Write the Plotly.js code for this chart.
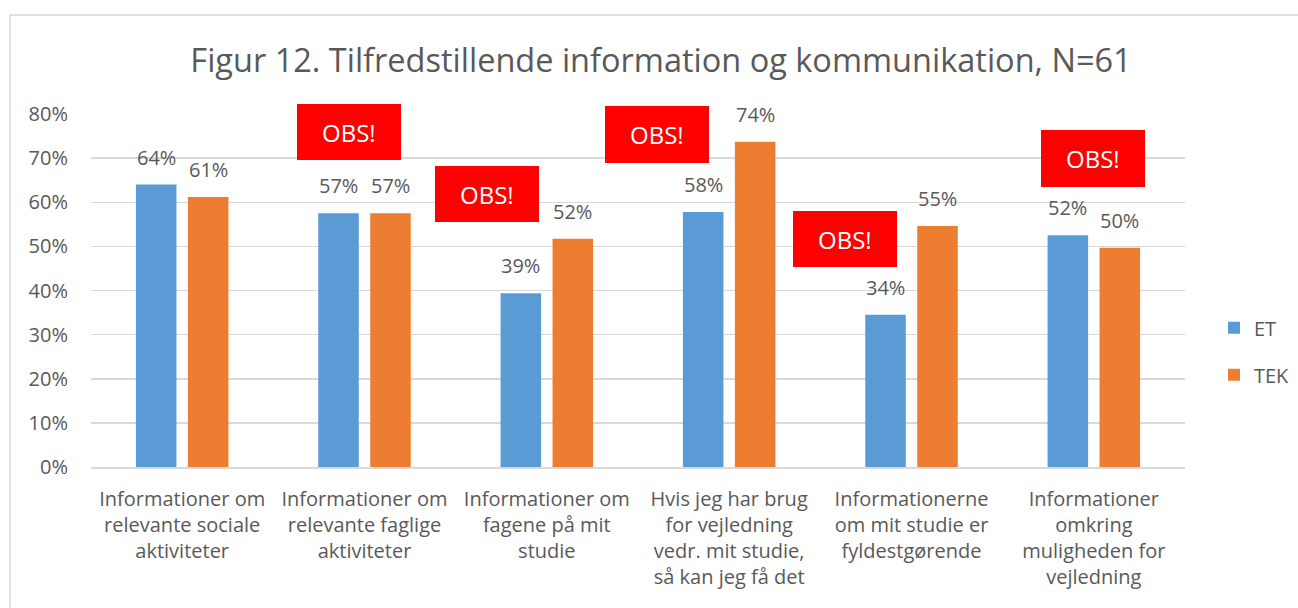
<!DOCTYPE html>
<html>
<head>
<meta charset="utf-8">
<script src="https://cdn.plot.ly/plotly-3.0.1.min.js"></script>
<style>
html,body{margin:0;padding:0;background:#fff;}
#chart{width:1298px;height:608px;}
</style>
</head>
<body>
<div id="chart"></div>
<script>
const categories = [
  "Informationer om<br>relevante sociale<br>aktiviteter",
  "Informationer om<br>relevante faglige<br>aktiviteter",
  "Informationer om<br>fagene på mit<br>studie",
  "Hvis jeg har brug<br>for vejledning<br>vedr. mit studie,<br>så kan jeg få det",
  "Informationerne<br>om mit studie er<br>fyldestgørende",
  "Informationer<br>omkring<br>muligheden for<br>vejledning"
];
const seriesNames = ["ET", "TEK"];
const etValues  = [0.64, 0.575, 0.394, 0.578, 0.345, 0.525];
const tekValues = [0.612, 0.575, 0.517, 0.737, 0.546, 0.497];
const etLabels  = ["64%", "57%", "39%", "58%", "34%", "52%"];
const tekLabels = ["61%", "57%", "52%", "74%", "55%", "50%"];
const yTickVals = [0, 0.1, 0.2, 0.3, 0.4, 0.5, 0.6, 0.7, 0.8];
const yTickText = ["0%", "10%", "20%", "30%", "40%", "50%", "60%", "70%", "80%"];
const obsText = "OBS!";

const FONT = "Open Sans, sans-serif";
const TXT = "#595959";
const idx = categories.map((_, i) => i);

const traces = [
  {type: "bar", name: seriesNames[0], x: idx, y: etValues,
   marker: {color: "#5B9BD5"}, legendgroup: "a", hoverinfo: "skip"},
  {type: "bar", name: seriesNames[1], x: idx, y: tekValues,
   marker: {color: "#ED7D31"}, legendgroup: "b", hoverinfo: "skip"}
];

const annotations = [];
idx.forEach(i => {
  annotations.push({x: i, y: etValues[i], xref: "x", yref: "y", text: etLabels[i],
    showarrow: false, xshift: -26, yanchor: "bottom", yshift: 12,
    font: {family: FONT, size: 20, color: TXT}});
  annotations.push({x: i, y: tekValues[i], xref: "x", yref: "y", text: tekLabels[i],
    showarrow: false, xshift: 26, yanchor: "bottom", yshift: 12,
    font: {family: FONT, size: 20, color: TXT}});
});

// OBS! callout boxes (pixel boxes converted to paper coordinates)
const L = 91, R = 1185, T = 114, B = 467;
const px = v => (v - L) / (R - L);
const py = v => (B - v) / (B - T);
const boxes = [[297,104,401,160],[435,166,539,222],[605,106,709,163],[793,211,897,267],[1041,130,1145,187]];
const shapes = [];
boxes.forEach(b => {
  shapes.push({type: "rect", xref: "paper", yref: "paper", x0: px(b[0]), x1: px(b[2]), y0: py(b[3]), y1: py(b[1]),
    fillcolor: "#FF0000", line: {width: 0}, layer: "above"});
  annotations.push({xref: "paper", yref: "paper", x: px((b[0]+b[2])/2), y: py((b[1]+b[3])/2),
    text: obsText, showarrow: false, xanchor: "center", yanchor: "middle",
    font: {family: FONT, size: 24, color: "#FFFFFF"}});
});
// outer chart border
shapes.push({type: "rect", xref: "paper", yref: "paper", x0: px(10), x1: px(1320), y0: py(620), y1: py(15),
  fillcolor: "rgba(0,0,0,0)", line: {color: "#D9D9D9", width: 1.5}, layer: "below"});

const layout = {
  width: 1298, height: 608,
  margin: {l: L, r: 1298 - R, t: T, b: 608 - B, autoexpand: false},
  paper_bgcolor: "#fff", plot_bgcolor: "#fff",
  title: {text: "Figur 12. Tilfredstillende information og kommunikation, N=61",
    font: {family: FONT, size: 32.5, color: TXT}, x: px(661), xanchor: "center",
    y: 1 - 61/608, yanchor: "middle", xref: "paper"},
  barmode: "group", bargap: 0.43, bargroupgap: 0.22,
  xaxis: {tickvals: idx, ticktext: categories, range: [-0.5, 5.5],
    tickfont: {family: FONT, size: 20, color: TXT}, showgrid: false, automargin: false,
    showline: true, linecolor: "#D9D9D9", linewidth: 1.5, ticks: "", tickangle: 0, fixedrange: true,
    ticklabelstandoff: 13},
  yaxis: {range: [0, 0.8], tickvals: yTickVals, ticktext: yTickText, automargin: false,
    tickfont: {family: FONT, size: 20, color: TXT}, gridcolor: "#D9D9D9", gridwidth: 1.5,
    zeroline: false, showline: false, ticks: "", ticklen: 0, fixedrange: true, ticklabelstandoff: 22},
  showlegend: true,
  legend: {x: 1.0265, xanchor: "left", y: 0.328, yanchor: "middle",
    font: {family: FONT, size: 20, color: TXT}, tracegroupgap: 18, traceorder: "grouped"},
  annotations: annotations, shapes: shapes
};

Plotly.newPlot("chart", traces, layout, {staticPlot: true, displayModeBar: false});
</script>
</body>
</html>
